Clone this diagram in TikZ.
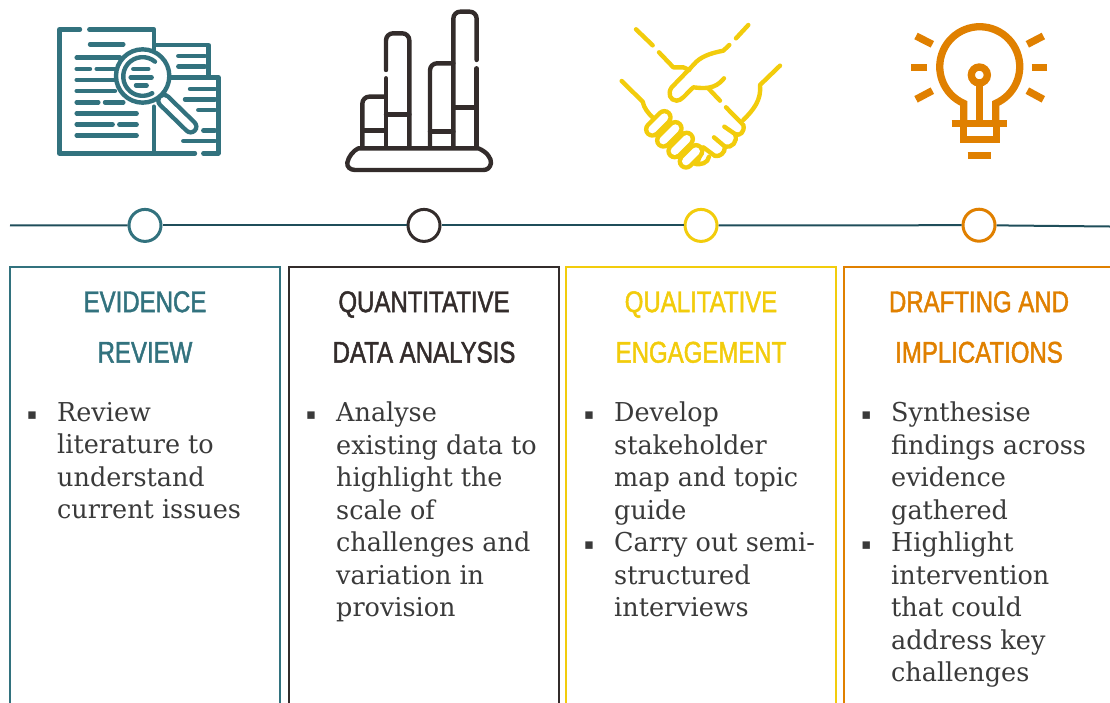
\documentclass[tikz,border=0pt]{standalone}
\usepackage{fontspec}
\newfontfamily\bodyfont[FakeStretch=0.98]{DejaVu Serif}
\newfontfamily\headfont[FakeStretch=0.80,FakeBold=1.5]{Liberation Sans}
\usetikzlibrary{positioning}
\definecolor{mteal}{HTML}{32727E}
\definecolor{mdark}{HTML}{332C2B}
\definecolor{myellow}{HTML}{F2CC0C}
\definecolor{morange}{HTML}{E08000}
\definecolor{mline}{HTML}{1F4E5A}
\definecolor{mtext}{HTML}{3A3A3A}
\newcommand{\sqbullet}{\makebox[0pt][r]{\raisebox{2pt}{\fontsize{15}{15}\selectfont ▪}\hspace{20pt}}}
\tikzstyle{panel} = [rectangle, minimum width = 270pt, minimum height = 453pt, line width = 2pt, anchor = north west, inner sep = 0pt, outer sep = 0pt]
\tikzstyle{stage} = [circle, minimum size = 32pt, inner sep = 0pt, line width = 3pt, fill = white]
\tikzstyle{timeline} = [line width = 2pt, mline]
\tikzstyle{heading} = [font = \headfont\fontsize{30}{50.5}\selectfont, align = center, anchor = north, inner sep = 0pt]
\tikzstyle{points} = [font = \bodyfont\fontsize{26}{32.5}\selectfont, align = left, anchor = north west, inner sep = 0pt, text = mtext]
\tikzstyle{icon} = [x = 0.3333pt, y = -0.3333pt, line width = 4.4pt, line cap = round, line join = round]
\tikzstyle{capsule} = [line width = 4.4pt, line cap = round, double = white, double distance = 7pt]
\begin{document}
\begin{tikzpicture}[x = 1pt, y = -1pt]
  \useasboundingbox (0,0) rectangle (1110,702);
  \clip (0,0) rectangle (1110,702);
  \node (evbox) [panel, draw = mteal] at (10,267) {};
  \node (qnbox) [panel, draw = mdark] at (289,267) {};
  \node (qlbox) [panel, draw = myellow] at (566,267) {};
  \node (drbox) [panel, draw = morange] at (844,267) {};
  \node (evhead) [heading, text = mteal] at (145,291) {EVIDENCE\\REVIEW};
  \node (qnhead) [heading, text = mdark] at (424,291) {QUANTITATIVE\\DATA ANALYSIS};
  \node (qlhead) [heading, text = myellow] at (701,291) {QUALITATIVE\\ENGAGEMENT};
  \node (drhead) [heading, text = morange] at (979,291) {DRAFTING AND\\IMPLICATIONS};
  \node (evtext) [points] at (57,402) {\sqbullet Review\\literature to\\understand\\current issues};
  \node (qntext) [points] at (336,402) {\sqbullet Analyse\\existing data to\\highlight the\\scale of\\challenges and\\variation in\\provision};
  \node (qltext) [points] at (614,402) {\sqbullet Develop\\stakeholder\\map and topic\\guide\\\sqbullet Carry out semi-\\structured\\interviews};
  \node (drtext) [points] at (891,402) {\sqbullet Synthesise\\findings across\\evidence\\gathered\\\sqbullet Highlight\\intervention\\that could\\address key\\challenges};
  \coordinate (linestart) at (10,225.3);
  \coordinate (lineend) at (1110,226.5);
  \node (evdot) [stage, draw = mteal] at (145,225.4) {};
  \node (qndot) [stage, draw = mdark] at (424,225.4) {};
  \node (qldot) [stage, draw = myellow] at (701,225.4) {};
  \node (drdot) [stage, draw = morange] at (979,225.2) {};
  \draw [timeline] (linestart) -- (evdot);
  \draw [timeline] (evdot) -- (qndot);
  \draw [timeline] (qndot) -- (qldot);
  \draw [timeline] (qldot) -- (drdot);
  \draw [timeline] (drdot) -- (lineend);
  % document icon
  \begin{scope}[shift = {(40,0)}, icon, mteal]
    \draw (120,88) -- (58,88) -- (58,460) -- (465,460);
    \draw (148,88) -- (342,88) -- (342,150);
    \draw (342,320) -- (342,460);
    \draw (350,135) -- (505,135) -- (505,232);
    \draw (490,460) -- (535,460) -- (535,232) -- (395,232);
    \foreach \xa/\xb/\ya in {415/495/168, 415/495/200, 450/525/267, 435/525/298, 475/525/330, 490/525/392, 430/525/423, 150/250/133, 110/240/173, 110/150/207, 170/225/207, 110/225/240, 110/225/273, 110/175/307, 195/250/307, 110/290/340, 110/218/373, 238/290/373, 110/290/406}
      \draw (\xa,\ya) -- (\xb,\ya);
    \draw [fill = white] (308,228) circle [radius = 80];
    \draw (345,185) arc [start angle = -50, end angle = -300, radius = 58];
    \draw [capsule] (372,302) -- (452,380);
    \foreach \xa/\xb/\ya in {280/325/207, 272/335/232, 288/320/256}
      \draw (\xa,\ya) -- (\xb,\ya);
  \end{scope}
  % bars icon
  \begin{scope}[shift = {(330,0)}, icon, mdark, rounded corners = 7pt]
    \draw (97,440) -- (97,290) -- (165,290);
    \draw (168,210) -- (168,100) -- (238,100) -- (238,440);
    \draw (300,440) -- (300,190) -- (370,190);
    \draw (370,440) -- (370,35) -- (440,35) -- (440,180);
    \draw (168,235) -- (168,440);
    \draw (440,205) -- (440,440);
    \foreach \xa/\xb/\ya in {97/165/392, 168/238/343, 300/370/395, 370/440/322}
      \draw (\xa,\ya) -- (\xb,\ya);
    \draw [sharp corners] (85,445) -- (445,445) .. controls (470,455) and (485,475) .. (483,490) .. controls (480,505) and (470,510) .. (460,510) -- (75,510) .. controls (60,510) and (50,500) .. (52,488) .. controls (55,470) and (70,452) .. (85,445);
  \end{scope}
  % handshake icon
  \begin{scope}[shift = {(610,10)}, icon, myellow]
    \draw (78,58) -- (128,106);
    \draw (147,127) -- (190,172) -- (220,172) -- (238,180);
    \draw (415,45) -- (378,85);
    \draw (358,105) -- (340,122) .. controls (300,130) and (270,140) .. (250,165) -- (185,232) .. controls (172,250) and (180,272) .. (200,272) .. controls (215,272) and (225,255) .. (250,232) .. controls (280,235) and (315,240) .. (342,205);
    \draw (295,235) -- (330,272);
    \draw (510,167) -- (450,225) .. controls (455,270) and (430,300) .. (400,330);
    \draw (348,292) -- (400,345) .. controls (405,365) and (390,380) .. (375,372) -- (343,350);
    \draw (375,372) .. controls (385,395) and (365,415) .. (345,410) -- (312,382);
    \draw (345,410) .. controls (345,430) and (330,440) .. (315,438) -- (280,412);
    \draw (35,213) -- (98,275) .. controls (102,295) and (115,310) .. (128,322);
    \draw (265,415) .. controls (275,430) and (270,450) .. (255,462) .. controls (270,465) and (295,460) .. (297,440);
    \foreach \xa/\ya/\xb/\yb in {127/358/163/322, 160/391/196/355, 194/423/230/387, 228/454/258/424}
      \draw [capsule, double distance = 8pt] (\xa,\ya) -- (\xb,\yb);
  \end{scope}
  % bulb icon
  \begin{scope}[shift = {(900,10)}, icon, morange, line width = 7.3pt, line cap = butt, line join = miter]
    \draw (191,330) -- (191,280) arc [start angle = 113.7, end angle = 426.3, radius = 120] -- (287,330);
    \draw (238,225) -- (238,330);
    \draw (238,195) circle [radius = 24];
    \draw (155,340) -- (322,340);
    \draw (191,340) -- (191,389) -- (289,389) -- (289,340);
    \foreach \xa/\ya/\xb/\yb in {203/436/273/436, 34/172/82/172, 395/172/442/172, 48/78/97/103, 48/268/97/242, 430/78/382/103, 430/268/382/242}
      \draw (\xa,\ya) -- (\xb,\yb);
  \end{scope}
\end{tikzpicture}
\end{document}
